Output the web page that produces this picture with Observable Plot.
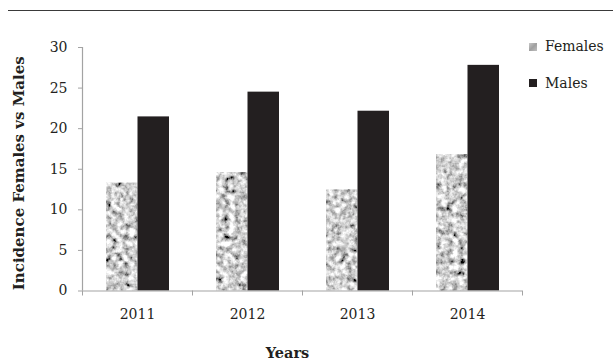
<!DOCTYPE html>
<html>
<head>
<meta charset="utf-8">
<script src="https://cdn.jsdelivr.net/npm/d3@7"></script>
<script src="https://cdn.jsdelivr.net/npm/@observablehq/plot@0.6"></script>
<style>
  html, body { margin: 0; padding: 0; background: #fff; }
  #wrap { position: relative; width: 613px; height: 363px; overflow: hidden; font-family: "DejaVu Serif", serif; color: #231f20; }
  #topline { position: absolute; left: 8px; top: 10px; width: 605px; height: 1.4px; background: #3a3a3a; }
  #chart { position: absolute; left: 0; top: 0; }
  .leg { position: absolute; font-size: 14px; line-height: 1; white-space: nowrap; }
  .sw { position: absolute; width: 8px; height: 8px; }
</style>
</head>
<body>
<div id="wrap">
  <div id="topline"></div>
  <div id="chart"></div>
  <div id="legend"></div>
</div>
<script>
const years = ["2011", "2012", "2013", "2014"];
const females = [13.3, 14.6, 12.45, 16.8];
const males = [21.45, 24.5, 22.15, 27.8];
const yTicks = [0, 5, 10, 15, 20, 25, 30];
const seriesNames = ["Females", "Males"];
const yLabel = "Incidence Females vs Males";
const xLabel = "Years";

const femaleData = years.map((year, i) => ({year, value: females[i]}));
const maleData = years.map((year, i) => ({year, value: males[i]}));

const W = 613, H = 363, ML = 82, MR = 91, MT = 47, MB = 72.5;
const bw = (W - ML - MR) / years.length;
const axisGray = "#a3a3a3";
const ink = "#231f20";

const chart = Plot.plot({
  width: W, height: H,
  marginLeft: ML, marginRight: MR, marginTop: MT, marginBottom: MB,
  x: {domain: years, padding: 0, axis: null},
  y: {domain: [0, 30], axis: null},
  style: {fontFamily: "DejaVu Serif", fontSize: "14px", color: ink, background: "transparent", overflow: "visible"},
  marks: [
    Plot.barY(femaleData, {x: "year", y: "value", fill: "url(#grain)", insetLeft: 24, insetRight: 54.5}),
    Plot.barY(maleData, {x: "year", y: "value", fill: ink, insetLeft: 55.5, insetRight: 23}),
    Plot.ruleY([0], {stroke: axisGray, strokeWidth: 1.2}),
    Plot.ruleX([years[0]], {y1: 0, y2: 30, dx: -bw / 2, stroke: axisGray, strokeWidth: 1.2}),
    Plot.axisY({ticks: yTicks, tickSize: 4, tickPadding: 11, stroke: axisGray, fill: ink, fontSize: 14, label: null}),
    Plot.axisX({ticks: years, tickSize: 0, tickPadding: 18, fill: ink, fontSize: 14, label: null}),
    Plot.axisX({ticks: years, tickSize: 5, dx: -bw / 2, tickFormat: () => "", stroke: axisGray, label: null}),
    Plot.axisX({ticks: [years[years.length - 1]], tickSize: 5, dx: bw / 2, tickFormat: () => "", stroke: axisGray, label: null}),
    Plot.text([yLabel], {frameAnchor: "left", textAnchor: "middle", lineAnchor: "middle", dx: -63, dy: 4, rotate: -90, fontWeight: "bold", fontSize: 15, fill: ink}),
    Plot.text([xLabel], {frameAnchor: "bottom", textAnchor: "middle", lineAnchor: "middle", dx: -15, dy: 62.5, fontWeight: "bold", fontSize: 14.5, fill: ink})
  ]
});

// grain texture used to fill the Females bars
const ns = "http://www.w3.org/2000/svg";
const defs = document.createElementNS(ns, "defs");
defs.innerHTML = `
  <filter id="grainf" x="0" y="0" width="${W}" height="${H}" filterUnits="userSpaceOnUse">
    <feTurbulence type="fractalNoise" baseFrequency="0.17" numOctaves="3" seed="7"/>
    <feColorMatrix type="matrix" values="1.3 1.3 0 0 -0.68  1.3 1.3 0 0 -0.68  1.3 1.3 0 0 -0.68  0 0 0 0 1"/>
    <feGaussianBlur stdDeviation="0.5"/>
  </filter>
  <pattern id="grain" patternUnits="userSpaceOnUse" x="0" y="0" width="${W}" height="${H}">
    <rect x="0" y="0" width="${W}" height="${H}" fill="#bbb" filter="url(#grainf)"/>
  </pattern>`;
chart.insertBefore(defs, chart.firstChild);
document.getElementById("chart").appendChild(chart);

// legend
const legend = document.getElementById("legend");
const legendColors = ["#b0b0b0", ink];
const legendTops = [42.7, 79.2];
seriesNames.forEach((name, i) => {
  const sw = document.createElement("div");
  sw.className = "sw";
  sw.style.left = "529px";
  sw.style.top = legendTops[i] + "px";
  sw.style.background = i === 0 ? "linear-gradient(135deg,#c8c8c8,#a0a0a0 50%,#c0c0c0)" : legendColors[i];
  legend.appendChild(sw);
  const t = document.createElement("div");
  t.className = "leg";
  t.style.left = "545px";
  t.style.top = (legendTops[i] - 3.5) + "px";
  t.textContent = name;
  legend.appendChild(t);
});
</script>
</body>
</html>
